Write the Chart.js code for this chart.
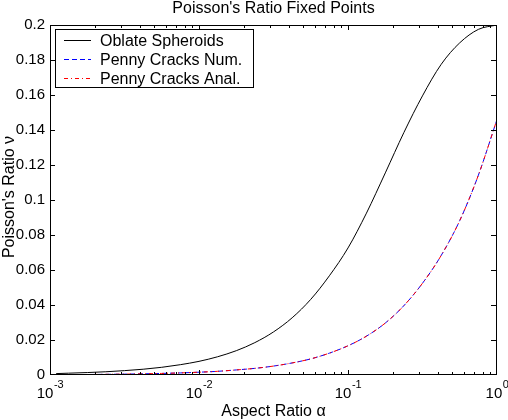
<!DOCTYPE html>
<html>
<head>
<meta charset="utf-8">
<script src="https://cdn.jsdelivr.net/npm/chart.js@4/dist/chart.umd.min.js"></script>
<style>
body { margin: 0; background: #fff; }
canvas { display: block; }
</style>
</head>
<body>
<canvas id="myChart" width="508" height="420"></canvas>
<script>
// values, every eighth of a decade
var oblateAlpha = [0.0011, 0.00133, 0.00178, 0.00237, 0.00316, 0.00422, 0.00562, 0.0075, 0.01, 0.0133, 0.0178, 0.0237, 0.0316, 0.0422, 0.0562, 0.075, 0.1, 0.133, 0.178, 0.237, 0.316, 0.422, 0.562, 0.75, 1.0];
var oblateNu    = [0.0008, 0.00104, 0.0014, 0.00185, 0.0025, 0.0033, 0.0044, 0.0059, 0.0078, 0.0104, 0.0139, 0.0185, 0.0246, 0.0327, 0.0432, 0.0567, 0.0726, 0.0925, 0.1155, 0.1385, 0.1595, 0.1775, 0.1898, 0.1975, 0.2];

var pennyAlpha = [0.001, 0.00133, 0.00178, 0.00237, 0.00316, 0.00422, 0.00562, 0.0075, 0.01, 0.0133, 0.0178, 0.0237, 0.0316, 0.0422, 0.0562, 0.075, 0.1, 0.133, 0.178, 0.237, 0.316, 0.422, 0.562, 0.75, 1.0];
var pennyNum   = [0.00016, 0.00021, 0.00029, 0.00038, 0.0005, 0.00068, 0.0009, 0.0012, 0.0016, 0.0021, 0.0029, 0.0038, 0.0051, 0.0069, 0.0092, 0.0125, 0.0167, 0.0222, 0.0297, 0.0396, 0.0524, 0.0683, 0.0882, 0.1142, 0.146];
var pennyAnal  = [0.00016, 0.00021, 0.00029, 0.00038, 0.0005, 0.00068, 0.0009, 0.0012, 0.0016, 0.0021, 0.0029, 0.0038, 0.0051, 0.0069, 0.0092, 0.0125, 0.0167, 0.0222, 0.0297, 0.0396, 0.0524, 0.0683, 0.0882, 0.1142, 0.146];

var seriesNames = ['Oblate Spheroids', 'Penny Cracks Num.', 'Penny Cracks Anal.'];
var yTicks = [0, 0.02, 0.04, 0.06, 0.08, 0.1, 0.12, 0.14, 0.16, 0.18, 0.2];
var xDecades = [-3, -2, -1, 0];

var FONT = "'Liberation Sans', Arial, Helvetica, sans-serif";

function toPoints(xs, ys) {
    return xs.map(function(x, i) { return { x: x, y: ys[i] }; });
}

// matlab style box, inward ticks, superscript labels, legend and titles
var matlabFrame = {
    id: 'matlabFrame',
    afterDatasetsDraw: function(chart) {
        var ctx = chart.ctx;
        var a = chart.chartArea;
        var xs = chart.scales.x;
        var ys = chart.scales.y;
        ctx.save();
        ctx.strokeStyle = '#000';
        ctx.lineWidth = 1;
        ctx.setLineDash([]);
        ctx.strokeRect(a.left + 0.5, a.top + 0.5, a.right - a.left - 1, a.bottom - a.top - 1);

        ctx.beginPath();
        yTicks.forEach(function(v) {
            var py = Math.round(ys.getPixelForValue(v)) + 0.5;
            if (v === 0) py = a.bottom - 0.5;
            ctx.moveTo(a.left, py); ctx.lineTo(a.left + 5, py);
            ctx.moveTo(a.right - 1, py); ctx.lineTo(a.right - 6, py);
        });
        xDecades.forEach(function(d) {
            for (var m = 1; m <= 9; m++) {
                if (d === 0 && m > 1) break;
                var px = Math.round(xs.getPixelForValue(m * Math.pow(10, d))) + 0.5;
                if (d === 0) px = a.right - 0.5;
                var len = m === 1 ? 5 : 3;
                ctx.moveTo(px, a.bottom); ctx.lineTo(px, a.bottom - len);
                ctx.moveTo(px, a.top); ctx.lineTo(px, a.top + len);
            }
        });
        ctx.stroke();

        // legend
        var lx = 55.5, ly = 29.5, lw = 198, lh = 58;
        ctx.fillStyle = '#fff';
        ctx.fillRect(lx, ly, lw, lh);
        ctx.strokeRect(lx, ly, lw, lh);
        ctx.font = '16px ' + FONT;
        ctx.textBaseline = 'middle';
        ctx.textAlign = 'left';
        chart.data.datasets.forEach(function(ds, i) {
            var ry = 40.5 + i * 19;
            ctx.strokeStyle = ds.borderColor;
            ctx.setLineDash(ds.borderDash || []);
            ctx.beginPath();
            ctx.moveTo(64, ry); ctx.lineTo(91, ry);
            ctx.stroke();
            ctx.fillStyle = '#000';
            ctx.fillText(ds.label, 100, ry + 1);
        });
        ctx.restore();
    },
    afterDraw: function(chart) {
        var ctx = chart.ctx;
        var a = chart.chartArea;
        var xs = chart.scales.x;
        var cx = (a.left + a.right) / 2;
        ctx.save();
        ctx.fillStyle = '#000';
        ctx.textBaseline = 'alphabetic';
        ctx.textAlign = 'left';

        xDecades.forEach(function(d) {
            var px = xs.getPixelForValue(Math.pow(10, d));
            var sup = String(d);
            ctx.font = '15px ' + FONT;
            var w1 = ctx.measureText('10').width;
            ctx.font = '11px ' + FONT;
            var w2 = ctx.measureText(sup).width;
            var x0 = px - (w1 + w2) / 2;
            ctx.font = '15px ' + FONT;
            ctx.fillText('10', x0, 398);
            ctx.font = '11px ' + FONT;
            ctx.fillText(sup, x0 + w1 + 0.5, 388);
        });

        ctx.textAlign = 'center';
        ctx.textBaseline = 'middle';
        ctx.font = '16px ' + FONT;
        ctx.fillText("Poisson's Ratio Fixed Points", cx, 9);
        ctx.fillText('Aspect Ratio \u03b1', cx, 412);

        ctx.translate(10, (a.top + a.bottom) / 2 - 3);
        ctx.rotate(-Math.PI / 2);
        ctx.fillText('Poisson\'s Ratio \u03bd', 0, 0);
        ctx.restore();
    }
};

window.onload = function() {
    var ctx = document.getElementById('myChart').getContext('2d');
    var myChart = new Chart(ctx, {
        type: 'line',
        data: {
            datasets: [{
                label: seriesNames[0],
                data: toPoints(oblateAlpha, oblateNu),
                borderColor: '#000000',
                borderWidth: 1,
                order: 0
            }, {
                label: seriesNames[1],
                data: toPoints(pennyAlpha, pennyNum),
                borderColor: '#0000ff',
                borderWidth: 1,
                borderDash: [5, 3],
                order: 2
            }, {
                label: seriesNames[2],
                data: toPoints(pennyAlpha, pennyAnal),
                borderColor: '#ff0000',
                borderWidth: 1,
                borderDash: [4, 3, 1, 3],
                order: 1
            }]
        },
        options: {
            responsive: false,
            animation: false,
            devicePixelRatio: 1,
            layout: { padding: { top: 25, right: 11, left: 0, bottom: 0 } },
            elements: {
                point: { radius: 0 },
                line: { cubicInterpolationMode: 'monotone', fill: false }
            },
            scales: {
                x: {
                    type: 'logarithmic',
                    min: 0.001,
                    max: 1,
                    grid: { display: false, drawTicks: false },
                    border: { display: false },
                    ticks: { display: false },
                    afterFit: function(scale) { scale.height = 45; }
                },
                y: {
                    min: 0,
                    max: 0.2,
                    grid: { display: false, drawTicks: false },
                    border: { display: false },
                    ticks: {
                        stepSize: 0.02,
                        padding: 5,
                        color: '#000',
                        font: { family: FONT, size: 15 },
                        callback: function(v) { return String(parseFloat(v.toFixed(2))); }
                    },
                    afterFit: function(scale) { scale.width = 50; }
                }
            },
            plugins: {
                legend: { display: false },
                tooltip: { enabled: false },
                title: { display: false }
            }
        },
        plugins: [matlabFrame]
    });
};
</script>
</body>
</html>
